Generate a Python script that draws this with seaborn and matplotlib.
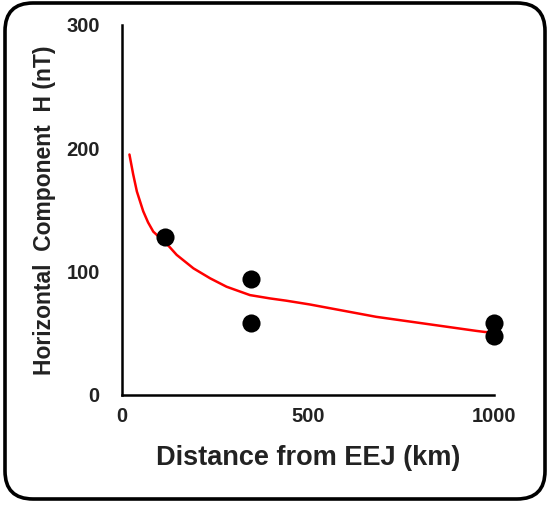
import numpy as np
import pandas as pd
import matplotlib
matplotlib.use("Agg")
import matplotlib.pyplot as plt
from matplotlib.patches import FancyBboxPatch
import seaborn as sns

# observed stations
distance_km = [116, 348, 348, 1000, 1000]
h_nT = [128.5, 94, 58, 58, 48]

# fitted trend
fit_x = [20, 25, 30, 40, 57, 70, 84, 100, 116, 147, 192, 237, 281, 344, 398, 441, 505, 683, 952, 978, 1000]
fit_y = [195, 187, 179, 165, 149, 140, 132.5, 128, 124, 113.6, 102.7, 94.6, 87.8, 81, 78.3, 76.5, 73.4, 63.4, 52, 51, 51]

x_ticks = [0, 500, 1000]
y_ticks = [0, 100, 200, 300]

sns.set_theme(style="white")
plt.rcParams["font.family"] = ["Liberation Sans", "DejaVu Sans"]
plt.rcParams["font.weight"] = "bold"

fig = plt.figure(figsize=(5.52, 5.05), dpi=100)
ax = fig.add_axes([122 / 552, 110 / 505, 372 / 552, 370 / 505])

# rounded frame round the whole figure (inches)
frame = FancyBboxPatch((0.05, 0.06), 5.40, 4.96,
                       boxstyle="round,pad=0,rounding_size=0.28",
                       transform=fig.dpi_scale_trans, fill=False,
                       edgecolor="black", linewidth=2.6, zorder=10)
fig.patches.append(frame)

fit = pd.DataFrame({"x": fit_x, "y": fit_y})
obs = pd.DataFrame({"x": distance_km, "y": h_nT})

sns.lineplot(data=fit, x="x", y="y", ax=ax, color="red", linewidth=1.8,
             estimator=None, sort=False)
sns.scatterplot(data=obs, x="x", y="y", ax=ax, color="black", s=170,
                edgecolor="black", linewidth=0, zorder=5, clip_on=False)

ax.set_xlim(0, 1000)
ax.set_ylim(0, 300)
ax.set_xticks(x_ticks)
ax.set_yticks(y_ticks)
ax.tick_params(axis="both", length=0, labelsize=14.5, colors="#222222")
ax.tick_params(axis="y", pad=16)
ax.tick_params(axis="x", pad=9)
for lab in ax.get_xticklabels() + ax.get_yticklabels():
    lab.set_fontweight("bold")

for side in ("top", "right"):
    ax.spines[side].set_visible(False)
for side in ("left", "bottom"):
    ax.spines[side].set_color("black")
    ax.spines[side].set_linewidth(1.8)

ax.set_xlabel("Distance from EEJ (km)", fontsize=19.5, fontweight="bold",
              color="#222222", va="center")
ax.xaxis.set_label_coords(0.5, -0.17)
ax.set_ylabel("Horizontal  Component  H (nT)", fontsize=16.5, fontweight="bold",
              color="#222222", va="center")
ax.yaxis.set_label_coords(-0.207, 0.5)
ax.grid(False)

fig.savefig("out.png", dpi=100)
